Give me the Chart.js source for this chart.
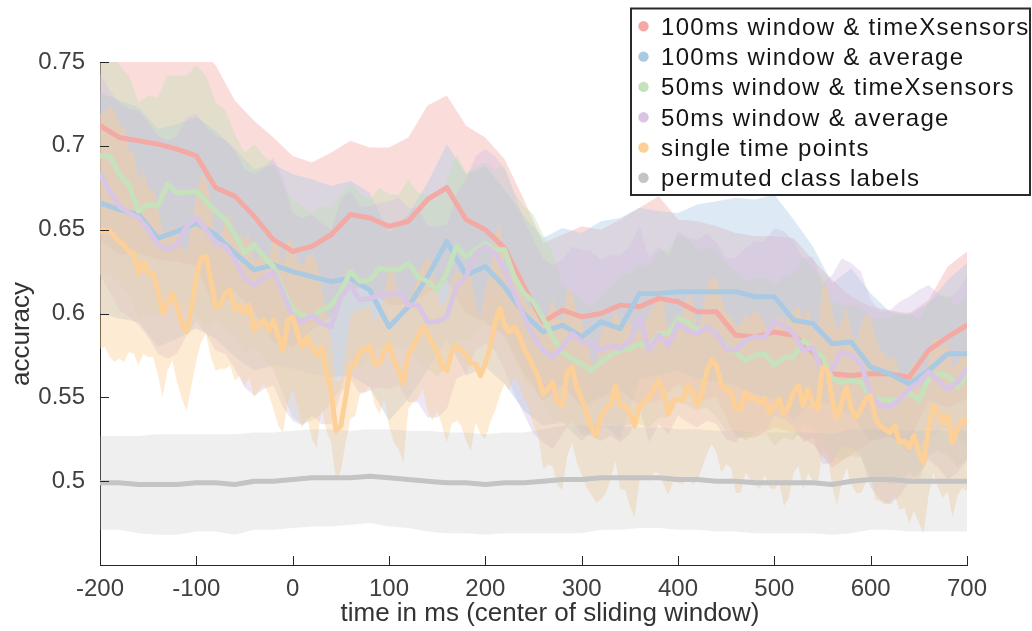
<!DOCTYPE html>
<html>
<head>
<meta charset="utf-8">
<script src="https://cdn.jsdelivr.net/npm/chart.js@4.4.1/dist/chart.umd.min.js"></script>
<style>
  html, body { margin: 0; padding: 0; background: #ffffff; }
  #wrap { width: 1032px; height: 631px; }
</style>
</head>
<body>
<div id="wrap"><canvas id="chart" width="1032" height="631"></canvas></div>
<script>
// ---- series labels (legend order) ----
const seriesNames = [
  '100ms window & timeXsensors',
  '100ms window & average',
  '50ms window & timeXsensors',
  '50ms window & average',
  'single time points',
  'permuted class labels'
];

// ---- axis ticks ----
const xTicks = [-200, -100, 0, 100, 200, 300, 400, 500, 600, 700];
const yTicks = [0.5, 0.55, 0.6, 0.65, 0.7, 0.75];
const xTitle = 'time in ms (center of sliding window)';
const yTitle = 'accuracy';

// ---- 100 ms windows, sampled every 20 ms from -200 to 700 ----
const acc100tx = [0.712,0.705,0.703,0.701,0.698,0.694,0.675,0.670,0.658,0.644,
  0.637,0.640,0.647,0.659,0.657,0.652,0.655,0.668,0.675,0.656,
  0.650,0.639,0.616,0.595,0.602,0.598,0.600,0.605,0.604,0.609,
  0.607,0.601,0.601,0.587,0.586,0.589,0.587,0.577,0.564,0.563,
  0.564,0.564,0.562,0.578,0.586,0.593];
const err100tx = [0.068,0.070,0.067,0.069,0.067,0.066,0.073,0.057,0.057,0.061,
  0.057,0.050,0.049,0.044,0.042,0.047,0.050,0.056,0.055,0.056,
  0.055,0.053,0.052,0.047,0.045,0.054,0.050,0.051,0.059,0.061,
  0.049,0.054,0.051,0.061,0.060,0.057,0.058,0.055,0.056,0.047,
  0.040,0.038,0.038,0.030,0.042,0.044];

const acc100avg = [0.666,0.662,0.659,0.645,0.649,0.654,0.647,0.636,0.626,0.629,
  0.625,0.622,0.619,0.621,0.614,0.592,0.604,0.622,0.643,0.623,
  0.628,0.616,0.600,0.589,0.593,0.586,0.595,0.591,0.612,0.612,
  0.613,0.613,0.613,0.613,0.610,0.610,0.596,0.594,0.582,0.583,
  0.568,0.564,0.558,0.566,0.576,0.576];
const err100avg = [0.066,0.065,0.064,0.065,0.064,0.063,0.062,0.062,0.060,0.060,
  0.058,0.058,0.057,0.058,0.058,0.056,0.055,0.056,0.058,0.060,
  0.060,0.058,0.058,0.056,0.058,0.062,0.060,0.066,0.051,0.049,
  0.047,0.052,0.054,0.056,0.058,0.061,0.060,0.046,0.036,0.044,
  0.044,0.037,0.041,0.040,0.044,0.054];

// ---- 50 ms windows, sampled every 10 ms (errors every 20 ms) ----
const acc50tx = [0.694,0.694,0.683,0.677,0.661,0.665,0.664,0.677,0.672,0.672,
  0.673,0.667,0.661,0.656,0.647,0.636,0.641,0.634,0.628,0.614,
  0.603,0.599,0.598,0.602,0.605,0.613,0.625,0.619,0.620,0.627,
  0.626,0.626,0.630,0.622,0.619,0.614,0.624,0.640,0.634,0.638,
  0.642,0.638,0.638,0.622,0.612,0.607,0.597,0.586,0.577,0.573,
  0.570,0.566,0.571,0.575,0.578,0.579,0.582,0.580,0.588,0.588,
  0.597,0.595,0.590,0.592,0.588,0.580,0.577,0.572,0.575,0.576,
  0.569,0.574,0.574,0.584,0.579,0.574,0.561,0.559,0.560,0.559,
  0.550,0.549,0.548,0.549,0.553,0.548,0.561,0.564,0.563,0.556,
  0.563];
const err50tx = [0.070,0.065,0.065,0.065,0.070,0.075,0.065,0.060,0.060,0.062,
  0.065,0.062,0.058,0.052,0.048,0.045,0.050,0.052,0.055,0.050,
  0.048,0.050,0.052,0.050,0.040,0.038,0.040,0.045,0.048,0.050,
  0.050,0.048,0.050,0.048,0.046,0.048,0.050,0.048,0.046,0.045,
  0.048,0.050,0.048,0.046,0.048,0.050];

const acc50avg = [0.683,0.673,0.664,0.660,0.657,0.650,0.641,0.638,0.641,0.652,
  0.657,0.650,0.642,0.640,0.632,0.621,0.617,0.621,0.625,0.612,
  0.598,0.595,0.599,0.594,0.592,0.610,0.617,0.608,0.609,0.611,
  0.611,0.613,0.605,0.605,0.595,0.595,0.598,0.616,0.622,0.636,
  0.640,0.636,0.626,0.612,0.598,0.586,0.578,0.574,0.580,0.588,
  0.583,0.582,0.578,0.581,0.579,0.584,0.598,0.578,0.587,0.581,
  0.594,0.590,0.588,0.592,0.588,0.579,0.578,0.584,0.586,0.586,
  0.595,0.593,0.588,0.578,0.580,0.564,0.567,0.577,0.575,0.570,
  0.552,0.545,0.544,0.549,0.555,0.559,0.565,0.560,0.555,0.559,
  0.567];
const err50avg = [0.060,0.062,0.064,0.065,0.065,0.062,0.064,0.065,0.066,0.068,
  0.062,0.060,0.058,0.056,0.055,0.056,0.058,0.057,0.055,0.058,
  0.058,0.060,0.058,0.055,0.052,0.055,0.054,0.056,0.055,0.053,
  0.055,0.056,0.054,0.055,0.057,0.056,0.055,0.054,0.056,0.055,
  0.056,0.058,0.055,0.052,0.054,0.055];

// ---- single time points, every 5 ms (errors every 10 ms) ----
const accSingle = [0.649,0.650,0.649,0.646,0.643,0.641,0.637,0.636,0.624,0.631,
  0.624,0.624,0.614,0.600,0.606,0.612,0.604,0.594,0.589,0.604,
  0.622,0.633,0.634,0.620,0.604,0.605,0.612,0.614,0.602,0.605,
  0.600,0.605,0.590,0.594,0.596,0.590,0.596,0.586,0.578,0.596,
  0.598,0.588,0.580,0.586,0.580,0.575,0.580,
  0.565,0.553,0.530,0.533,0.550,0.568,0.570,0.578,0.578,0.581,
  0.570,0.570,0.578,0.582,0.572,0.566,0.558,0.576,0.580,0.586,
  0.592,0.588,0.582,0.577,0.568,0.566,0.577,0.581,0.578,0.576,
  0.570,0.570,0.563,0.570,0.580,0.594,0.603,0.593,0.589,0.592,
  0.587,0.579,
  0.574,0.568,0.562,0.552,0.555,0.559,0.547,0.545,0.565,0.568,
  0.556,0.549,0.541,0.532,0.527,0.539,0.543,0.546,0.557,0.545,
  0.545,0.540,0.533,0.545,0.547,0.550,0.555,0.560,0.553,0.540,
  0.548,0.549,0.548,0.557,0.553,0.545,0.553,0.566,0.572,0.569,
  0.557,0.555,0.553,0.543,0.543,0.553,0.549,0.550,
  0.547,0.549,0.541,0.545,0.549,0.540,0.545,0.553,0.557,0.545,
  0.555,0.545,0.543,0.568,0.566,0.549,0.538,0.547,0.556,0.543,
  0.538,0.543,0.549,0.551,0.537,0.533,0.531,0.529,0.533,0.523,
  0.524,0.520,0.527,0.517,0.511,0.531,0.545,0.541,0.535,0.539,
  0.523,0.531,0.536,0.536];
const errSingle = [0.070,0.075,0.070,0.060,0.055,0.050,0.050,0.040,0.045,0.047,
  0.050,0.046,0.038,0.045,0.042,0.043,0.040,0.038,0.053,0.049,
  0.043,0.048,0.055,0.035,0.030,0.027,0.031,0.025,0.024,0.030,
  0.049,0.047,0.033,0.037,0.046,0.035,0.043,0.045,0.052,0.035,
  0.045,0.052,0.035,0.030,0.030,0.035,0.045,0.050,0.050,0.045,
  0.045,0.040,0.050,0.045,0.050,0.055,0.045,0.050,0.055,0.048,
  0.050,0.055,0.045,0.050,0.052,0.045,0.050,0.048,0.052,0.045,
  0.050,0.055,0.048,0.050,0.045,0.050,0.052,0.048,0.045,0.050,
  0.048,0.045,0.042,0.040,0.045,0.042,0.040,0.045,0.045,0.040,
  0.042];

// ---- permuted labels (chance level), every 20 ms ----
const accPerm = [0.499,0.499,0.498,0.498,0.498,0.499,0.499,0.498,0.500,0.500,
  0.501,0.502,0.502,0.502,0.503,0.502,0.501,0.500,0.499,0.499,
  0.498,0.499,0.499,0.500,0.501,0.501,0.502,0.502,0.502,0.502,
  0.501,0.501,0.500,0.500,0.499,0.499,0.499,0.499,0.498,0.500,
  0.501,0.501,0.500,0.500,0.500,0.500];
const errPerm = [0.028,0.028,0.029,0.030,0.030,0.029,0.029,0.030,0.029,0.029,
  0.029,0.029,0.029,0.028,0.028,0.029,0.029,0.030,0.030,0.030,
  0.030,0.030,0.030,0.031,0.032,0.032,0.031,0.031,0.030,0.030,
  0.030,0.030,0.030,0.030,0.030,0.030,0.030,0.030,0.030,0.031,
  0.030,0.030,0.030,0.030,0.030,0.030];

// ---- colours ----
const lineColors = ['#f3aaa5', '#a9cae2', '#c5e2bd', '#d8c6e4', '#fdd097', '#c4c4c4'];
const bandColors = [
  'rgba(242,160,155,0.36)',
  'rgba(160,198,226,0.36)',
  'rgba(190,224,180,0.38)',
  'rgba(210,190,228,0.38)',
  'rgba(253,205,145,0.40)',
  'rgba(190,190,190,0.25)'
];

const FONT = "'Liberation Sans', Arial, Helvetica, sans-serif";

// sample times (ms) for a series starting at -200 with a fixed step
function sampleTimes(step, n) {
  const t = [];
  for (let i = 0; i < n; i++) t.push(-200 + step * i);
  return t;
}

// each series: mean values, error values, and how many mean samples share one error sample
const series = [
  { mean: acc100tx,  err: err100tx,  step: 20, errEvery: 1 },
  { mean: acc100avg, err: err100avg, step: 20, errEvery: 1 },
  { mean: acc50tx,   err: err50tx,   step: 10, errEvery: 2 },
  { mean: acc50avg,  err: err50avg,  step: 10, errEvery: 2 },
  { mean: accSingle, err: errSingle, step: 5,  errEvery: 2 },
  { mean: accPerm,   err: errPerm,   step: 20, errEvery: 1 }
];

const datasets = [];
// shaded error bands (upper edge fills down to the lower edge);
// a higher "order" is painted first, so later series' bands lie on top
series.forEach((s, k) => {
  const t = sampleTimes(s.step, s.mean.length);
  const hi = [], lo = [];
  s.mean.forEach((m, i) => {
    const e = s.err[Math.min(Math.floor(i / s.errEvery), s.err.length - 1)];
    hi.push({ x: t[i], y: m + e });
    lo.push({ x: t[i], y: m - e });
  });
  const loIndex = datasets.length;
  datasets.push({
    label: seriesNames[k] + ' lower', data: lo, fill: false,
    borderWidth: 0, pointRadius: 0, order: 40 - k, borderColor: 'rgba(0,0,0,0)'
  });
  datasets.push({
    label: seriesNames[k] + ' upper', data: hi, fill: loIndex,
    backgroundColor: bandColors[k], borderWidth: 0, pointRadius: 0,
    order: 40 - k, borderColor: 'rgba(0,0,0,0)'
  });
});
// mean lines above all bands, later series drawn above earlier ones
series.forEach((s, k) => {
  const t = sampleTimes(s.step, s.mean.length);
  datasets.push({
    label: seriesNames[k],
    data: s.mean.map((m, i) => ({ x: t[i], y: m })),
    borderColor: lineColors[k], borderWidth: 5,
    pointRadius: 0, fill: false, tension: 0,
    borderJoinStyle: 'round', borderCapStyle: 'round',
    order: 10 - k, isMeanLine: true, legendIndex: k
  });
});

// inward tick marks, legend box and axis titles
const decorPlugin = {
  id: 'decor',
  afterDatasetsDraw(chart) {
    const ctx = chart.ctx, a = chart.chartArea;
    const xs = chart.scales.x, ys = chart.scales.y;
    ctx.save();
    ctx.strokeStyle = '#262626';
    ctx.lineWidth = 1;
    ctx.beginPath();
    yTicks.forEach(v => {
      const py = Math.round(ys.getPixelForValue(v)) + 0.5;
      ctx.moveTo(a.left, py); ctx.lineTo(a.left + 9, py);
    });
    xTicks.forEach(v => {
      const px = Math.round(xs.getPixelForValue(v)) + 0.5;
      ctx.moveTo(px, a.bottom); ctx.lineTo(px, a.bottom - 9);
    });
    ctx.stroke();
    ctx.restore();
  },
  afterDraw(chart) {
    const ctx = chart.ctx;
    ctx.save();
    // axis titles
    ctx.fillStyle = '#333333';
    ctx.font = '26px ' + FONT;
    ctx.textAlign = 'center';
    ctx.textBaseline = 'alphabetic';
    ctx.fillText(xTitle, 550, 621);
    ctx.save();
    ctx.translate(29, 334);
    ctx.rotate(-Math.PI / 2);
    ctx.fillText(yTitle, 0, 0);
    ctx.restore();

    // legend
    const bx = 631, by = 8.5, bw = 399, bh = 186.5;
    ctx.fillStyle = '#ffffff';
    ctx.fillRect(bx, by, bw, bh);
    ctx.strokeStyle = '#2a2a2a';
    ctx.lineWidth = 2;
    ctx.strokeRect(bx, by, bw, bh);
    ctx.font = '24px ' + FONT;
    ctx.textAlign = 'left';
    ctx.letterSpacing = '1.3px';
    const lines = chart.data.datasets.filter(d => d.isMeanLine);
    lines.forEach(d => {
      const i = d.legendIndex;
      const base = 34.8 + i * 30.3;
      ctx.fillStyle = d.borderColor;
      ctx.beginPath();
      ctx.arc(643.5, base - 8.5, 5.2, 0, Math.PI * 2);
      ctx.fill();
      ctx.fillStyle = '#151515';
      ctx.fillText(d.label, 661, base);
    });
    ctx.restore();
  }
};

new Chart(document.getElementById('chart'), {
  type: 'line',
  data: { datasets },
  options: {
    responsive: false,
    animation: false,
    events: [],
    layout: { padding: { top: 62, right: 65, left: 0, bottom: 0 } },
    plugins: { legend: { display: false }, tooltip: { enabled: false } },
    scales: {
      x: {
        type: 'linear', min: -200, max: 700,
        grid: { display: false, drawTicks: false },
        border: { display: true, color: '#262626', width: 1 },
        afterBuildTicks: s => { s.ticks = xTicks.map(v => ({ value: v })); },
        afterFit: s => { s.height = 66; },
        ticks: { font: { size: 24, family: FONT }, color: '#404040', padding: 10, maxRotation: 0,
                 callback: v => String(v) }
      },
      y: {
        type: 'linear', min: 0.45, max: 0.75,
        grid: { display: false, drawTicks: false },
        border: { display: true, color: '#262626', width: 1 },
        afterBuildTicks: s => { s.ticks = yTicks.map(v => ({ value: v })); },
        afterFit: s => { s.width = 100; },
        ticks: { font: { size: 24, family: FONT }, color: '#404040', padding: 15,
                 callback: v => String(Math.round(v * 100) / 100) }
      }
    }
  },
  plugins: [decorPlugin]
});
</script>
</body>
</html>
